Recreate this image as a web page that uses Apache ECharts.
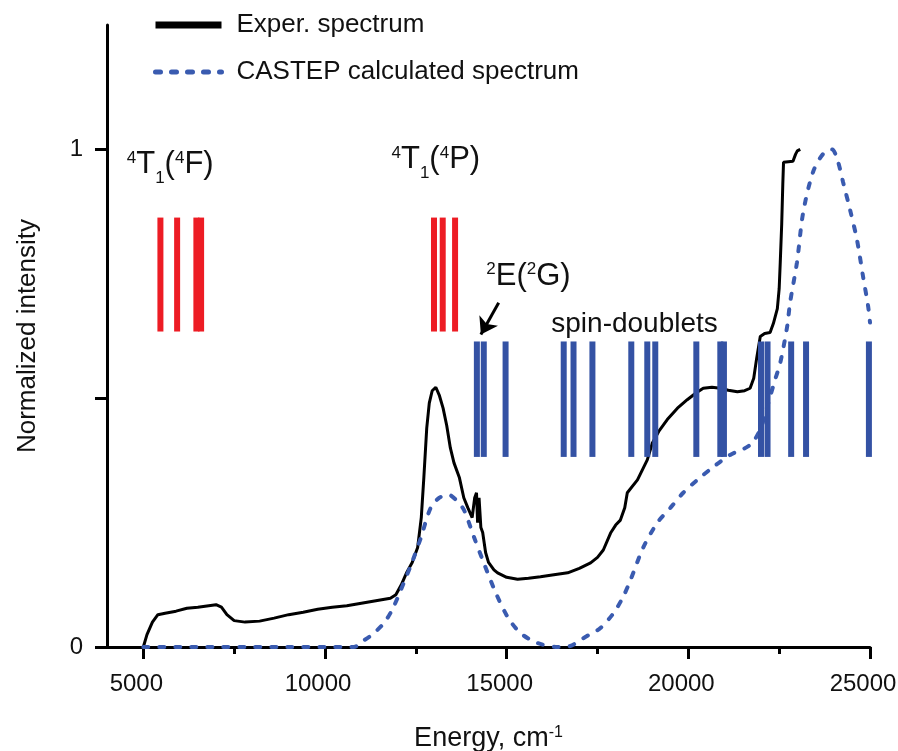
<!DOCTYPE html>
<html>
<head>
<meta charset="utf-8">
<script src="https://cdn.jsdelivr.net/npm/echarts@6/dist/echarts.min.js"></script>
<style>
  html, body { margin: 0; padding: 0; background: #fff; }
  #chart { width: 898px; height: 751px; }
</style>
</head>
<body>
<div id="chart"></div>
<script>
// experimental spectrum (energy in cm-1, normalized intensity)
const expEnergy = [5000, 5100, 5250, 5400, 5600, 5900, 6200, 6500, 6800, 7000, 7150, 7300, 7500, 7800, 8200, 8600,
  9000, 9400, 9800, 10200, 10600, 11000, 11400, 11800, 11950, 12100, 12250, 12400, 12550, 12650, 12720, 12800,
  12870, 12950, 13050, 13150, 13250, 13350, 13450, 13550, 13700, 13820, 13930, 14050, 14120, 14170, 14200, 14240,
  14290, 14340, 14420, 14500, 14650, 14750, 15000, 15300, 15600, 15930, 16300, 16680, 17000, 17310, 17500, 17660,
  17860, 18000, 18130, 18250, 18320, 18600, 18870, 19010, 19200, 19420, 19700, 19970, 20200, 20410, 20650, 20880,
  21100, 21350, 21550, 21700, 21800, 21880, 21980, 22100, 22250, 22340, 22450, 22500, 22530, 22570, 22600, 22620,
  22750, 22880, 22950, 23000, 23080];
const expIntensity = [0, 0.025, 0.05, 0.065, 0.068, 0.072, 0.078, 0.08, 0.083, 0.085, 0.08, 0.065, 0.053, 0.05, 0.052, 0.058,
  0.065, 0.07, 0.076, 0.08, 0.083, 0.088, 0.093, 0.098, 0.105, 0.125, 0.15, 0.17, 0.2, 0.26, 0.34, 0.44,
  0.49, 0.515, 0.522, 0.505, 0.48, 0.445, 0.4, 0.37, 0.34, 0.3, 0.28, 0.26, 0.3, 0.31, 0.25, 0.3,
  0.24, 0.23, 0.19, 0.17, 0.155, 0.149, 0.14, 0.136, 0.138, 0.141, 0.145, 0.149, 0.158, 0.169, 0.18, 0.195,
  0.229, 0.245, 0.255, 0.28, 0.31, 0.336, 0.376, 0.41, 0.435, 0.457, 0.48, 0.497, 0.51, 0.52, 0.522, 0.52,
  0.516, 0.513, 0.515, 0.52, 0.54, 0.58, 0.624, 0.63, 0.632, 0.65, 0.68, 0.72, 0.773, 0.85, 0.93, 0.974,
  0.975, 0.976, 0.99, 0.997, 1.0];

// CASTEP calculated spectrum
const calcEnergy = [5000, 6000, 7000, 8000, 9000, 10000, 10800, 11000, 11300, 11620, 11850, 12090, 12420, 12640, 12910,
  13150, 13400, 13600, 13820, 14100, 14370, 14700, 15030, 15380, 15850, 16400, 16750, 17030, 17300, 17580, 17940,
  18200, 18410, 18760, 19150, 19510, 19860, 20250, 20690, 21150, 21700, 21980, 22120, 22250, 22400, 22530, 22720,
  22800, 22990, 23160, 23430, 23700, 23950, 24100, 24260, 24450, 24640, 24810, 24950, 25000];
const calcIntensity = [0, 0, 0, 0, 0, 0, 0, 0.01, 0.025, 0.048, 0.075, 0.115, 0.175, 0.22, 0.28,
  0.3, 0.306, 0.296, 0.276, 0.221, 0.169, 0.109, 0.06, 0.028, 0.008, 0, 0.002, 0.014, 0.026, 0.038, 0.068,
  0.1, 0.135, 0.2, 0.25, 0.28, 0.31, 0.336, 0.362, 0.386, 0.406, 0.437, 0.47, 0.503, 0.54, 0.571, 0.644,
  0.692, 0.773, 0.873, 0.954, 0.99, 1.0, 0.98, 0.934, 0.879, 0.819, 0.744, 0.684, 0.652];

// calculated transition energies (stick markers)
const quartetLines = [5470, 5930, 6460, 6590, 13000, 13240, 13580];
const quartetSpan = [0.634, 0.863];
const doubletLines = [14180, 14370, 14970, 16570, 16840, 17360, 18430, 18870, 19090, 20220, 20880, 20980,
  22000, 22180, 22830, 23240, 24970];
const doubletSpan = [0.382, 0.614];

// axis ticks
const xMajorTicks = [5000, 10000, 15000, 20000, 25000];
const xMinorTicks = [7500, 12500, 17500, 22500];
const yTicks = [0, 0.5, 1];
const yLabels = [0, 1];

// annotation texts: [energy, intensity, key]
const annotations = [
  [5740, 0.97, 'T1F'],
  [13050, 0.98, 'T1P'],
  [15600, 0.745, 'EG'],
  [18520, 0.648, 'spin']
];
const arrowFrom = [14780, 0.692];
const arrowTo = [14290, 0.628];

const FONT = '"Liberation Sans", Arial, sans-serif';
const TEXT = '#111111';
const BLUE = '#3452a4';
const RED = '#ed1c24';

const richTerm = {
  b: { fontSize: 31, fontFamily: FONT, color: TEXT, lineHeight: 44 },
  sup: { fontSize: 17, fontFamily: FONT, color: TEXT, verticalAlign: 'top', lineHeight: 17, padding: [7, 0, 0, 0] },
  sub: { fontSize: 17, fontFamily: FONT, color: TEXT, verticalAlign: 'bottom', lineHeight: 17 },
  t: { fontSize: 28, fontFamily: FONT, color: TEXT }
};
const annoText = {
  T1F: '{sup|4}{b|T}{sub|1}{b|(}{sup|4}{b|F)}',
  T1P: '{sup|4}{b|T}{sub|1}{b|(}{sup|4}{b|P)}',
  EG: '{sup|2}{b|E(}{sup|2}{b|G)}',
  spin: '{t|spin-doublets}'
};

const sticks = (xs, span) => xs.map(x => [x, span[0], span[1]]);
const stickRender = color => (params, api) => {
  const p0 = api.coord([api.value(0), api.value(1)]);
  const p1 = api.coord([api.value(0), api.value(2)]);
  return {
    type: 'line',
    shape: { x1: p0[0], y1: p0[1], x2: p1[0], y2: p1[1] },
    style: { stroke: color, lineWidth: 6 }
  };
};

const chart = echarts.init(document.getElementById('chart'));
chart.setOption({
  animation: false,
  backgroundColor: '#fff',
  grid: { left: 107, right: 28, top: 25, bottom: 104, containLabel: false, outerBoundsMode: 'none' },
  legend: {
    orient: 'vertical',
    left: 147,
    top: 5,
    itemWidth: 66,
    itemHeight: 2,
    itemGap: 17,
    textStyle: { fontSize: 26, fontFamily: FONT, color: TEXT, lineHeight: 30, padding: [0, 0, 0, 10] },
    data: [
      { name: 'Exper. spectrum', lineStyle: { width: 7 } },
      { name: 'CASTEP calculated spectrum', lineStyle: { width: 5 } }
    ]
  },
  xAxis: [{
    type: 'value',
    min: 4000,
    max: 25000,
    position: 'bottom',
    axisLine: { lineStyle: { color: '#000', width: 3 } },
    axisTick: { customValues: xMajorTicks, length: 12, lineStyle: { color: '#000', width: 3 } },
    axisLabel: {
      customValues: xMajorTicks, margin: 25, fontSize: 24, fontFamily: FONT, color: TEXT,
      padding: [0, 14, 0, 0], formatter: v => String(v)
    },
    splitLine: { show: false },
    name: 'Energy, cm{sup|-1}',
    nameLocation: 'middle',
    nameGap: 78,
    nameTextStyle: {
      fontSize: 27, fontFamily: FONT, color: TEXT,
      rich: { sup: { fontSize: 16, fontFamily: FONT, color: TEXT, verticalAlign: 'top', lineHeight: 16 } }
    }
  }, {
    type: 'value',
    min: 4000,
    max: 25000,
    position: 'bottom',
    axisLine: { show: false },
    axisTick: { customValues: xMinorTicks, length: 7, lineStyle: { color: '#000', width: 3 } },
    axisLabel: { show: false },
    splitLine: { show: false }
  }],
  yAxis: {
    type: 'value',
    min: 0,
    max: 1.25,
    axisLine: { show: true, lineStyle: { color: '#000', width: 3 } },
    axisTick: { show: true, customValues: yTicks, length: 12, lineStyle: { color: '#000', width: 3 } },
    axisLabel: { customValues: yLabels, margin: 24, fontSize: 24, fontFamily: FONT, color: TEXT },
    splitLine: { show: false },
    name: 'Normalized intensity',
    nameLocation: 'middle',
    nameGap: 66,
    nameTextStyle: { fontSize: 26, fontFamily: FONT, color: TEXT }
  },
  series: [
    {
      name: 'Exper. spectrum',
      type: 'line',
      symbol: 'none',
      data: expEnergy.map((e, i) => [e, expIntensity[i]]),
      lineStyle: { color: '#000', width: 3 },
      itemStyle: { color: '#000' },
      z: 3
    },
    {
      name: 'CASTEP calculated spectrum',
      type: 'line',
      symbol: 'none',
      smooth: 0.3,
      data: calcEnergy.map((e, i) => [e, calcIntensity[i]]),
      lineStyle: { color: '#3a5bb0', width: 4, type: [5, 11], cap: 'round' },
      itemStyle: { color: '#3a5bb0' },
      z: 4
    },
    {
      name: 'quartets',
      type: 'custom',
      renderItem: stickRender(RED),
      data: sticks(quartetLines, quartetSpan),
      silent: true,
      z: 5
    },
    {
      name: 'doublets',
      type: 'custom',
      renderItem: stickRender(BLUE),
      data: sticks(doubletLines, doubletSpan),
      silent: true,
      z: 5
    },
    {
      name: 'labels',
      type: 'scatter',
      symbolSize: 0,
      silent: true,
      itemStyle: { opacity: 1 },
      data: annotations,
      label: {
        show: true,
        position: 'inside',
        color: TEXT,
        opacity: 1,
        formatter: p => annoText[p.data[2]],
        rich: richTerm
      },
      markLine: {
        silent: true,
        symbol: ['none', 'arrow'],
        symbolSize: 16,
        label: { show: false },
        lineStyle: { color: '#000', width: 3, type: 'solid', opacity: 1 },
        data: [[{ coord: arrowFrom }, { coord: arrowTo }]]
      },
      z: 6
    }
  ]
});
</script>
</body>
</html>
